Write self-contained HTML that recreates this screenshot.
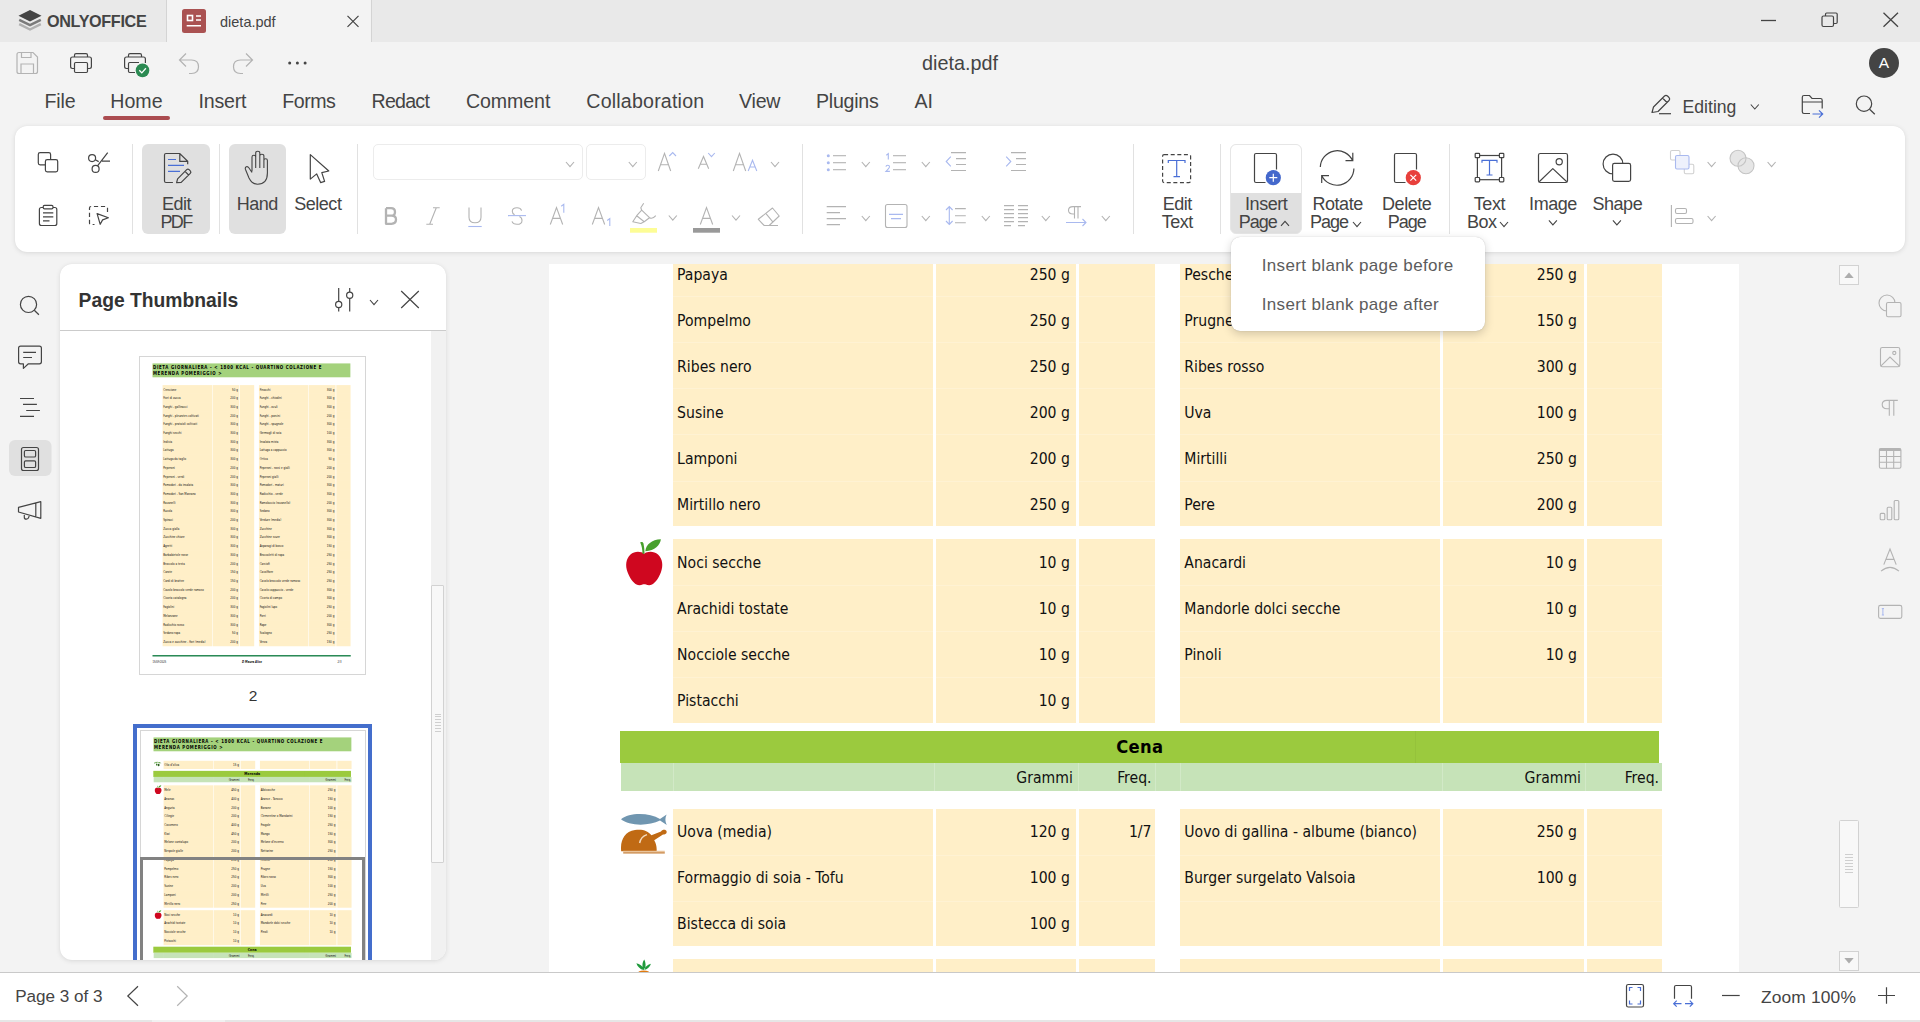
<!DOCTYPE html><html lang="en"><head><meta charset="utf-8"><title>dieta.pdf - ONLYOFFICE</title><style>
*{box-sizing:border-box;margin:0;padding:0}
html,body{width:1920px;height:1022px;overflow:hidden;background:#f3f3f3;font-family:"Liberation Sans",sans-serif;color:#444}
.abs{position:absolute}
.t{position:absolute;white-space:nowrap;line-height:1}
#titlebar{position:absolute;left:0;top:0;width:1920px;height:42px;background:#e9e9e9}
#tab{position:absolute;left:166px;top:0;width:206px;height:42px;background:#f3f3f3;border-left:1px solid #d4d4d4;border-right:1px solid #d4d4d4}
#toolbar{position:absolute;left:15px;top:126px;width:1890px;height:126px;background:#fff;border-radius:12px;box-shadow:0 1px 5px rgba(0,0,0,.11),0 0 1px rgba(0,0,0,.06)}
.sep{position:absolute;top:144px;width:1px;height:90px;background:#e1e1e1}
.btnbg{position:absolute;top:144px;height:90px;background:#e0e0e0;border-radius:6px}
.big{position:absolute;font-size:18px;line-height:18px;letter-spacing:-.45px;color:#444;text-align:center;white-space:nowrap}
.combo{position:absolute;top:144px;height:36px;border:1px solid #ececec;border-radius:5px;background:#fff}
#leftpanel{position:absolute;left:60px;top:264px;width:386px;height:696px;background:#fff;border-radius:12px;box-shadow:0 1px 5px rgba(0,0,0,.11),0 0 1px rgba(0,0,0,.06);overflow:hidden}
#status{position:absolute;left:0;top:972px;width:1920px;height:50px;background:#fff;border-top:1px solid #c9c9c9}
#status .strip{position:absolute;left:0;top:47px;width:1920px;height:3px;background:#e6e6e6}
#docwrap{position:absolute;left:549px;top:264px;width:1190px;height:708px;overflow:hidden;background:#fff}
.pg{position:absolute;width:1190px;height:1683px;background:#fff;font-family:"DejaVu Sans Condensed","Liberation Sans",sans-serif;color:#111;font-size:15.6px;overflow:hidden}
.pg .c{position:absolute;background:#ffefc8}
.pg .r{position:absolute;white-space:nowrap;line-height:46px;height:46px;padding-top:1px}
.pg .ln{position:absolute;height:1px;background:rgba(255,255,255,.2)}
#menu{position:absolute;left:1231px;top:237px;width:254px;height:94px;background:#fff;border-radius:9px;box-shadow:0 3px 10px rgba(0,0,0,.18),0 0 1px rgba(0,0,0,.25)}
#menu .t{font-size:17px;color:#5c5c5c;letter-spacing:.36px}
</style></head><body>
<div id="titlebar"></div><div id="tab"></div>
<div class="t" style="left:47px;top:13.2px;font-size:16.2px;color:#444;font-weight:bold;letter-spacing:-.35px">ONLYOFFICE</div>
<div class="t" style="left:220px;top:14.5px;font-size:14.5px;color:#444;">dieta.pdf</div>
<div class="t" style="left:0px;top:53.5px;font-size:19.8px;color:#444;width:1920px;text-align:center">dieta.pdf</div>
<div class="t" style="left:44.5px;top:91.8px;font-size:19.6px;color:#444;letter-spacing:-0.1px">File</div>
<div class="t" style="left:110.3px;top:91.8px;font-size:19.6px;color:#444;letter-spacing:0px">Home</div>
<div class="t" style="left:198.5px;top:91.8px;font-size:19.6px;color:#444;letter-spacing:-0.2px">Insert</div>
<div class="t" style="left:282.3px;top:91.8px;font-size:19.6px;color:#444;letter-spacing:-0.5px">Forms</div>
<div class="t" style="left:371.5px;top:91.8px;font-size:19.6px;color:#444;letter-spacing:-0.75px">Redact</div>
<div class="t" style="left:466px;top:91.8px;font-size:19.6px;color:#444;letter-spacing:-0.1px">Comment</div>
<div class="t" style="left:586.3px;top:91.8px;font-size:19.6px;color:#444;letter-spacing:0.2px">Collaboration</div>
<div class="t" style="left:739px;top:91.8px;font-size:19.6px;color:#444;letter-spacing:-0.2px">View</div>
<div class="t" style="left:816px;top:91.8px;font-size:19.6px;color:#444;letter-spacing:-0.25px">Plugins</div>
<div class="t" style="left:914.5px;top:91.8px;font-size:19.6px;color:#444;letter-spacing:0px">AI</div>
<div class="abs" style="left:103px;top:116.4px;width:67px;height:3.6px;border-radius:2px;background:#ab4c50"></div>
<div class="t" style="left:1682.6px;top:98.6px;font-size:17.6px;color:#444;">Editing</div>
<div id="toolbar"></div>
<div class="sep" style="left:132px"></div>
<div class="sep" style="left:219px"></div>
<div class="sep" style="left:357px"></div>
<div class="sep" style="left:802px"></div>
<div class="sep" style="left:1133px"></div>
<div class="sep" style="left:1220px"></div>
<div class="sep" style="left:1449px"></div>
<div class="btnbg" style="left:142px;width:68px"></div>
<div class="btnbg" style="left:229px;width:57px"></div>
<div class="abs" style="left:1230px;top:144px;width:72px;height:90px;border-radius:6px;background:#e0e0e0;border:1px solid #e6e6e6;overflow:hidden"><div style="position:absolute;left:0;top:0;width:100%;height:47.5px;background:#fff"></div></div>
<div class="combo" style="left:373px;width:210px"></div><div class="combo" style="left:586px;width:60px"></div>
<div class="big" style="left:116.5px;width:120px;top:194.5px">Edit<br><span style="letter-spacing:-1.6px;margin-left:-1px">PDF</span></div>
<div class="big" style="left:197.3px;width:120px;top:194.5px">Hand</div>
<div class="big" style="left:257.8px;width:120px;top:194.5px">Select</div>
<div class="big" style="left:1117.3px;width:120px;top:194.5px">Edit<br>Text</div>
<div class="big" style="left:1206.2px;width:120px;top:194.5px">Insert</div>
<div class="t" style="left:1238.7px;top:212.5px;font-size:18px;color:#444;letter-spacing:-1px">Page</div>
<div class="big" style="left:1277.6px;width:120px;top:194.5px">Rotate</div>
<div class="t" style="left:1310px;top:212.5px;font-size:18px;color:#444;letter-spacing:-1px">Page</div>
<div class="big" style="left:1346.7px;width:120px;top:194.5px">Delete<br><span style="letter-spacing:-1px">Page</span></div>
<div class="big" style="left:1429.4px;width:120px;top:194.5px">Text</div>
<div class="t" style="left:1467px;top:212.5px;font-size:18px;color:#444;letter-spacing:-.45px">Box</div>
<div class="big" style="left:1493px;width:120px;top:194.5px">Image</div>
<div class="big" style="left:1557.3px;width:120px;top:194.5px">Shape</div>
<div id="docwrap"><div class="pg" style="left:0.3px;top:-673px"><div class="abs" style="left:71px;top:39px;width:1041px;height:73px;background:#a4d27c"></div><div class="abs" style="left:74px;top:44px;font-weight:bold;font-size:23px;line-height:31px;letter-spacing:3.3px;white-space:nowrap;color:#000">DIETA GIORNALIERA - &lt; 1800 KCAL - QUARTINO COLAZIONE E<br>MERENDA POMERIGGIO &gt;</div><div class="c" style="left:123.7px;top:162.0px;width:260.0px;height:43.0px"></div><div class="c" style="left:386.7px;top:162.0px;width:140.4px;height:43.0px"></div><div class="c" style="left:530.1px;top:162.0px;width:75.6px;height:43.0px"></div><div class="c" style="left:631.0px;top:162.0px;width:259.5px;height:43.0px"></div><div class="c" style="left:894.2px;top:162.0px;width:140.1px;height:43.0px"></div><div class="c" style="left:1037.6px;top:162.0px;width:75.1px;height:43.0px"></div><div class="r" style="left:127.8px;top:162.0px">Olio d'oliva</div><div class="r" style="right:669.4px;top:162.0px">15 g</div><svg class="abs" style="left:72px;top:166px" width="42" height="30" viewBox="0 0 42 30"><path d="M2,6 C12,2 26,3 40,9" stroke="#3f7f2c" stroke-width="1.6" fill="none"/><path d="M10,5 C14,0 20,0 22,3 C18,6 14,7 10,5 Z M24,6 C28,2 34,3 36,7 C32,9 27,9 24,6 Z M12,6 C9,10 5,11 2,9 C5,6 9,5 12,6 Z" fill="#4c9e2c"/><ellipse cx="26" cy="18" rx="5" ry="7" fill="#2d5d20"/><ellipse cx="16" cy="16" rx="4" ry="6" fill="#3f7f2c"/></svg><div class="abs" style="left:70.3px;top:215.0px;width:1039.7px;height:31.6px;background:#9bca3e"></div><div class="abs" style="left:865.5px;top:215.0px;width:1px;height:31.6px;background:rgba(0,0,0,.035)"></div><div class="abs" style="left:0;width:1181px;top:215.0px;height:31.6px;line-height:32px;text-align:center;font-weight:bold;font-size:18.2px;letter-spacing:.3px;color:#000">Merenda</div><div class="abs" style="left:71.7px;top:246.6px;width:1041px;height:28.4px;background:#c6e3b8"></div><div class="abs" style="left:123.7px;top:246.6px;width:1px;height:28.4px;background:rgba(255,255,255,.22)"></div><div class="abs" style="left:385.2px;top:246.6px;width:1px;height:28.4px;background:rgba(255,255,255,.22)"></div><div class="abs" style="left:528.6px;top:246.6px;width:1px;height:28.4px;background:rgba(255,255,255,.22)"></div><div class="abs" style="left:606px;top:246.6px;width:1px;height:28.4px;background:rgba(255,255,255,.22)"></div><div class="abs" style="left:631px;top:246.6px;width:1px;height:28.4px;background:rgba(255,255,255,.22)"></div><div class="abs" style="left:892.3px;top:246.6px;width:1px;height:28.4px;background:rgba(255,255,255,.22)"></div><div class="abs" style="left:1036px;top:246.6px;width:1px;height:28.4px;background:rgba(255,255,255,.22)"></div><div class="r" style="right:666.5px;top:246.6px;height:28.4px;line-height:28.4px">Grammi</div><div class="r" style="right:587.8px;top:246.6px;height:28.4px;line-height:28.4px">Freq.</div><div class="r" style="right:158.3px;top:246.6px;height:28.4px;line-height:28.4px">Grammi</div><div class="r" style="right:80.3px;top:246.6px;height:28.4px;line-height:28.4px">Freq.</div><div class="c" style="left:123.7px;top:290.8px;width:260.0px;height:644.7px"></div><div class="c" style="left:386.7px;top:290.8px;width:140.4px;height:644.7px"></div><div class="c" style="left:530.1px;top:290.8px;width:75.6px;height:644.7px"></div><div class="c" style="left:631.0px;top:290.8px;width:259.5px;height:644.7px"></div><div class="c" style="left:894.2px;top:290.8px;width:140.1px;height:644.7px"></div><div class="c" style="left:1037.6px;top:290.8px;width:75.1px;height:644.7px"></div><div class="ln" style="left:123.7px;top:336.9px;width:989px"></div><div class="ln" style="left:123.7px;top:382.9px;width:989px"></div><div class="ln" style="left:123.7px;top:429.0px;width:989px"></div><div class="ln" style="left:123.7px;top:475.0px;width:989px"></div><div class="ln" style="left:123.7px;top:521.1px;width:989px"></div><div class="ln" style="left:123.7px;top:567.1px;width:989px"></div><div class="ln" style="left:123.7px;top:613.2px;width:989px"></div><div class="ln" style="left:123.7px;top:659.2px;width:989px"></div><div class="ln" style="left:123.7px;top:705.2px;width:989px"></div><div class="ln" style="left:123.7px;top:751.3px;width:989px"></div><div class="ln" style="left:123.7px;top:797.4px;width:989px"></div><div class="ln" style="left:123.7px;top:843.4px;width:989px"></div><div class="ln" style="left:123.7px;top:889.5px;width:989px"></div><div class="r" style="left:127.8px;top:291.7px">Mele</div><div class="r" style="right:669.4px;top:291.7px">450 g</div><div class="r" style="left:635px;top:291.7px">Albicocche</div><div class="r" style="right:162.4px;top:291.7px">250 g</div><div class="r" style="left:127.8px;top:337.8px">Ananas</div><div class="r" style="right:669.4px;top:337.8px">400 g</div><div class="r" style="left:635px;top:337.8px">Arance - Tarocco</div><div class="r" style="right:162.4px;top:337.8px">150 g</div><div class="r" style="left:127.8px;top:383.8px">Anguria</div><div class="r" style="right:669.4px;top:383.8px">200 g</div><div class="r" style="left:635px;top:383.8px">Banane</div><div class="r" style="right:162.4px;top:383.8px">100 g</div><div class="r" style="left:127.8px;top:429.9px">Ciliegie</div><div class="r" style="right:669.4px;top:429.9px">200 g</div><div class="r" style="left:635px;top:429.9px">Clementine o Mandarini</div><div class="r" style="right:162.4px;top:429.9px">150 g</div><div class="r" style="left:127.8px;top:475.9px">Cocomero</div><div class="r" style="right:669.4px;top:475.9px">400 g</div><div class="r" style="left:635px;top:475.9px">Fragole</div><div class="r" style="right:162.4px;top:475.9px">250 g</div><div class="r" style="left:127.8px;top:522.0px">Kiwi</div><div class="r" style="right:669.4px;top:522.0px">450 g</div><div class="r" style="left:635px;top:522.0px">Mango</div><div class="r" style="right:162.4px;top:522.0px">150 g</div><div class="r" style="left:127.8px;top:568.0px">Melone cantalupo</div><div class="r" style="right:669.4px;top:568.0px">200 g</div><div class="r" style="left:635px;top:568.0px">Melone d'inverno</div><div class="r" style="right:162.4px;top:568.0px">300 g</div><div class="r" style="left:127.8px;top:614.1px">Nespole gialle</div><div class="r" style="right:669.4px;top:614.1px">200 g</div><div class="r" style="left:635px;top:614.1px">Nettarine</div><div class="r" style="right:162.4px;top:614.1px">250 g</div><div class="r" style="left:127.8px;top:660.1px">Papaya</div><div class="r" style="right:669.4px;top:660.1px">250 g</div><div class="r" style="left:635px;top:660.1px">Pesche</div><div class="r" style="right:162.4px;top:660.1px">250 g</div><div class="r" style="left:127.8px;top:706.1px">Pompelmo</div><div class="r" style="right:669.4px;top:706.1px">250 g</div><div class="r" style="left:635px;top:706.1px">Prugne</div><div class="r" style="right:162.4px;top:706.1px">150 g</div><div class="r" style="left:127.8px;top:752.2px">Ribes nero</div><div class="r" style="right:669.4px;top:752.2px">250 g</div><div class="r" style="left:635px;top:752.2px">Ribes rosso</div><div class="r" style="right:162.4px;top:752.2px">300 g</div><div class="r" style="left:127.8px;top:798.2px">Susine</div><div class="r" style="right:669.4px;top:798.2px">200 g</div><div class="r" style="left:635px;top:798.2px">Uva</div><div class="r" style="right:162.4px;top:798.2px">100 g</div><div class="r" style="left:127.8px;top:844.3px">Lamponi</div><div class="r" style="right:669.4px;top:844.3px">200 g</div><div class="r" style="left:635px;top:844.3px">Mirtilli</div><div class="r" style="right:162.4px;top:844.3px">250 g</div><div class="r" style="left:127.8px;top:890.4px">Mirtillo nero</div><div class="r" style="right:669.4px;top:890.4px">250 g</div><div class="r" style="left:635px;top:890.4px">Pere</div><div class="r" style="right:162.4px;top:890.4px">200 g</div><svg class="abs" style="left:75.7px;top:290.00000000000006px" width="40" height="49" viewBox="0 0 40 49"><path d="M19.2,15.8 C16,13.2 9.5,13 5.5,16.5 C0.8,20.8 0.2,27.5 2.5,34 C4.5,39.8 8,44.5 11.5,46.5 C13.5,47.5 16,47.2 17.5,46.5 C18.7,46 19.8,46 21,46.5 C22.5,47.2 25,47.5 27,46.5 C30.5,44.5 34,39.8 36,34 C38.3,27.5 37.7,20.8 33,16.5 C29,13 22.4,13.2 19.2,15.8 Z" fill="#cf071f"/><path d="M15.2,4.4 C16.8,3.4 18.2,4 18.5,5.6 C19.1,8.6 19.5,12 19.6,15.8 L17.5,15.8 C17.4,11.6 16.8,7.6 15.2,4.4 Z" fill="#48a02c"/><path d="M20.3,13.2 C21,6.5 26.5,1.6 35.9,1.2 C35,7.2 30,12.8 20.3,13.2 Z" fill="#48a02c"/></svg><div class="c" style="left:123.7px;top:947.8px;width:260.0px;height:184.4px"></div><div class="c" style="left:386.7px;top:947.8px;width:140.4px;height:184.4px"></div><div class="c" style="left:530.1px;top:947.8px;width:75.6px;height:184.4px"></div><div class="c" style="left:631.0px;top:947.8px;width:259.5px;height:184.4px"></div><div class="c" style="left:894.2px;top:947.8px;width:140.1px;height:184.4px"></div><div class="c" style="left:1037.6px;top:947.8px;width:75.1px;height:184.4px"></div><div class="ln" style="left:123.7px;top:993.9px;width:989px"></div><div class="ln" style="left:123.7px;top:1040.0px;width:989px"></div><div class="ln" style="left:123.7px;top:1086.1px;width:989px"></div><div class="r" style="left:127.8px;top:948.0px">Noci secche</div><div class="r" style="right:669.4px;top:948.0px">10 g</div><div class="r" style="left:635px;top:948.0px">Anacardi</div><div class="r" style="right:162.4px;top:948.0px">10 g</div><div class="r" style="left:127.8px;top:994.1px">Arachidi tostate</div><div class="r" style="right:669.4px;top:994.1px">10 g</div><div class="r" style="left:635px;top:994.1px">Mandorle dolci secche</div><div class="r" style="right:162.4px;top:994.1px">10 g</div><div class="r" style="left:127.8px;top:1040.2px">Nocciole secche</div><div class="r" style="right:669.4px;top:1040.2px">10 g</div><div class="r" style="left:635px;top:1040.2px">Pinoli</div><div class="r" style="right:162.4px;top:1040.2px">10 g</div><div class="r" style="left:127.8px;top:1086.3px">Pistacchi</div><div class="r" style="right:669.4px;top:1086.3px">10 g</div><svg class="abs" style="left:75.7px;top:947px" width="40" height="49" viewBox="0 0 40 49"><path d="M19.2,15.8 C16,13.2 9.5,13 5.5,16.5 C0.8,20.8 0.2,27.5 2.5,34 C4.5,39.8 8,44.5 11.5,46.5 C13.5,47.5 16,47.2 17.5,46.5 C18.7,46 19.8,46 21,46.5 C22.5,47.2 25,47.5 27,46.5 C30.5,44.5 34,39.8 36,34 C38.3,27.5 37.7,20.8 33,16.5 C29,13 22.4,13.2 19.2,15.8 Z" fill="#cf071f"/><path d="M15.2,4.4 C16.8,3.4 18.2,4 18.5,5.6 C19.1,8.6 19.5,12 19.6,15.8 L17.5,15.8 C17.4,11.6 16.8,7.6 15.2,4.4 Z" fill="#48a02c"/><path d="M20.3,13.2 C21,6.5 26.5,1.6 35.9,1.2 C35,7.2 30,12.8 20.3,13.2 Z" fill="#48a02c"/></svg><div class="abs" style="left:70.3px;top:1140.0px;width:1039.7px;height:31.6px;background:#9bca3e"></div><div class="abs" style="left:865.5px;top:1140.0px;width:1px;height:31.6px;background:rgba(0,0,0,.035)"></div><div class="abs" style="left:0;width:1181px;top:1140.0px;height:31.6px;line-height:32px;text-align:center;font-weight:bold;font-size:18.2px;letter-spacing:.3px;color:#000">Cena</div><div class="abs" style="left:71.7px;top:1171.6px;width:1041px;height:28.4px;background:#c6e3b8"></div><div class="abs" style="left:123.7px;top:1171.6px;width:1px;height:28.4px;background:rgba(255,255,255,.22)"></div><div class="abs" style="left:385.2px;top:1171.6px;width:1px;height:28.4px;background:rgba(255,255,255,.22)"></div><div class="abs" style="left:528.6px;top:1171.6px;width:1px;height:28.4px;background:rgba(255,255,255,.22)"></div><div class="abs" style="left:606px;top:1171.6px;width:1px;height:28.4px;background:rgba(255,255,255,.22)"></div><div class="abs" style="left:631px;top:1171.6px;width:1px;height:28.4px;background:rgba(255,255,255,.22)"></div><div class="abs" style="left:892.3px;top:1171.6px;width:1px;height:28.4px;background:rgba(255,255,255,.22)"></div><div class="abs" style="left:1036px;top:1171.6px;width:1px;height:28.4px;background:rgba(255,255,255,.22)"></div><div class="r" style="right:666.5px;top:1171.6px;height:28.4px;line-height:28.4px">Grammi</div><div class="r" style="right:587.8px;top:1171.6px;height:28.4px;line-height:28.4px">Freq.</div><div class="r" style="right:158.3px;top:1171.6px;height:28.4px;line-height:28.4px">Grammi</div><div class="r" style="right:80.3px;top:1171.6px;height:28.4px;line-height:28.4px">Freq.</div><div class="c" style="left:123.7px;top:1217.6px;width:260.0px;height:137.9px"></div><div class="c" style="left:386.7px;top:1217.6px;width:140.4px;height:137.9px"></div><div class="c" style="left:530.1px;top:1217.6px;width:75.6px;height:137.9px"></div><div class="c" style="left:631.0px;top:1217.6px;width:259.5px;height:137.9px"></div><div class="c" style="left:894.2px;top:1217.6px;width:140.1px;height:137.9px"></div><div class="c" style="left:1037.6px;top:1217.6px;width:75.1px;height:137.9px"></div><div class="ln" style="left:123.7px;top:1263.5px;width:989px"></div><div class="ln" style="left:123.7px;top:1309.5px;width:989px"></div><div class="r" style="left:127.8px;top:1217.3px">Uova (media)</div><div class="r" style="right:669.4px;top:1217.3px">120 g</div><div class="r" style="right:587.8px;top:1217.3px">1/7</div><div class="r" style="left:635px;top:1217.3px">Uovo di gallina - albume (bianco)</div><div class="r" style="right:162.4px;top:1217.3px">250 g</div><div class="r" style="left:127.8px;top:1263.2px">Formaggio di soia - Tofu</div><div class="r" style="right:669.4px;top:1263.2px">100 g</div><div class="r" style="left:635px;top:1263.2px">Burger surgelato Valsoia</div><div class="r" style="right:162.4px;top:1263.2px">100 g</div><div class="r" style="left:127.8px;top:1309.2px">Bistecca di soia</div><div class="r" style="right:669.4px;top:1309.2px">100 g</div><svg class="abs" style="left:72px;top:1222.3px" width="48" height="42" viewBox="0 0 48 42"><path d="M0,6.3 C8,-0.6 28,-0.6 39,5.9 L45.6,1.4 C44,5 44,8 45.8,12 L39,7.6 C28,13.2 8,13.2 0,6.3 Z" fill="#7096b0"/><path d="M0.2,38.2 C-1,28 3,18.6 14,17 C22,16 27,18 30.4,22.2 L40,18.6 C41,16.4 45.2,16 45.7,18.7 C46,20.8 43.6,21.6 42,21.6 L33.2,27.2 C35,30.2 36,34.2 35.6,38.2 Z" fill="#c06a14"/><path d="M18.6,30 C19.5,25.5 22,22.8 26,21.6" stroke="#f3d9bb" stroke-width="1.5" fill="none"/><path d="M2.2,38.4 H43.8" stroke="#e9c49c" stroke-width="1.2"/><path d="M2.2,39.8 H43.8" stroke="#c47a30" stroke-width="1.3"/></svg><div class="c" style="left:123.7px;top:1367.8px;width:260.0px;height:184.2px"></div><div class="c" style="left:386.7px;top:1367.8px;width:140.4px;height:184.2px"></div><div class="c" style="left:530.1px;top:1367.8px;width:75.6px;height:184.2px"></div><div class="c" style="left:631.0px;top:1367.8px;width:259.5px;height:184.2px"></div><div class="c" style="left:894.2px;top:1367.8px;width:140.1px;height:184.2px"></div><div class="c" style="left:1037.6px;top:1367.8px;width:75.1px;height:184.2px"></div><div class="ln" style="left:123.7px;top:1413.8px;width:989px"></div><div class="ln" style="left:123.7px;top:1459.9px;width:989px"></div><div class="ln" style="left:123.7px;top:1505.9px;width:989px"></div><div class="r" style="left:127.8px;top:1367.8px">Verdure (media)</div><div class="r" style="right:669.4px;top:1367.8px">300 g</div><div class="r" style="left:635px;top:1367.8px">Insalata mista</div><div class="r" style="right:162.4px;top:1367.8px">300 g</div><div class="r" style="left:127.8px;top:1413.8px">Zucchine</div><div class="r" style="right:669.4px;top:1413.8px">300 g</div><div class="r" style="left:635px;top:1413.8px">Finocchi</div><div class="r" style="right:162.4px;top:1413.8px">300 g</div><div class="r" style="left:127.8px;top:1459.9px">Spinaci</div><div class="r" style="right:669.4px;top:1459.9px">200 g</div><div class="r" style="left:635px;top:1459.9px">Pomodori - maturi</div><div class="r" style="right:162.4px;top:1459.9px">300 g</div><div class="r" style="left:127.8px;top:1505.9px">Carote</div><div class="r" style="right:669.4px;top:1505.9px">150 g</div><div class="r" style="left:635px;top:1505.9px">Melanzane</div><div class="r" style="right:162.4px;top:1505.9px">300 g</div><svg class="abs" style="left:86.7px;top:1367.5px" width="16" height="30" viewBox="0 0 16 30"><path d="M7.4,10.6 C5.8,6 6.4,3 8.3,0.4 C9.7,3.5 10.1,6.6 8.9,10.6 Z M7.6,11 C4,10.2 1.5,7.6 0.4,4.2 C3.6,5 6.6,7 8.1,10.2 Z M8.4,11 C12,10.2 14.1,7.6 14.9,4.8 C12,5.6 9.5,7.6 8.1,10.2 Z" fill="#1f9a3c"/><path d="M2.6,12.4 Q7.7,10.6 12.8,12.4 L10.4,24 Q7.7,30 5,24 Z" fill="#e07b12"/></svg><div class="abs" style="left:71px;top:1573px;width:1043px;height:8px;background:#2a8a56"></div><div class="abs" style="left:71px;top:1600px;font-size:14px;white-space:nowrap">15/09/2025</div><div class="abs" style="left:0;width:1190px;text-align:center;top:1600px;font-size:15px;font-weight:bold;font-style:italic;white-space:nowrap">D Maura Alice</div><div class="abs" style="right:125px;top:1600px;font-size:14px;white-space:nowrap">3/3</div></div></div>
<div id="leftpanel"><div class="abs" style="left:0;top:66px;width:386px;height:1px;background:#cbcbcb"></div><div class="abs" style="left:371px;top:67px;width:15px;height:629px;background:#f1f1f1"></div><div class="abs" style="left:370.9px;top:320.5px;width:13.6px;height:278px;background:#f8f8f8;border:1px solid #d2d2d2;border-radius:1px"></div><div class="abs" style="left:374.9px;top:449.5px;width:6px;height:1px;background:#cfcfcf"></div><div class="abs" style="left:374.9px;top:452.4px;width:6px;height:1px;background:#cfcfcf"></div><div class="abs" style="left:374.9px;top:455.3px;width:6px;height:1px;background:#cfcfcf"></div><div class="abs" style="left:374.9px;top:458.2px;width:6px;height:1px;background:#cfcfcf"></div><div class="abs" style="left:374.9px;top:461.1px;width:6px;height:1px;background:#cfcfcf"></div><div class="abs" style="left:374.9px;top:464.0px;width:6px;height:1px;background:#cfcfcf"></div><div class="abs" style="left:374.9px;top:466.9px;width:6px;height:1px;background:#cfcfcf"></div><div class="t" style="left:18.6px;top:27.1px;font-size:19.3px;color:#333;font-weight:bold">Page Thumbnails</div><div class="abs" style="left:79.2px;top:91.6px;width:226.8px;height:319.6px;background:#fff;overflow:hidden"><div class="pg" style="left:0;top:0;transform:scale(0.19008);transform-origin:0 0"><div class="abs" style="left:71px;top:39px;width:1041px;height:73px;background:#a4d27c"></div><div class="abs" style="left:74px;top:44px;font-weight:bold;font-size:23px;line-height:31px;letter-spacing:3.3px;white-space:nowrap;color:#000">DIETA GIORNALIERA - &lt; 1800 KCAL - QUARTINO COLAZIONE E<br>MERENDA POMERIGGIO &gt;</div><div class="c" style="left:123.7px;top:152.6px;width:260.0px;height:1374.0px"></div><div class="c" style="left:386.7px;top:152.6px;width:140.4px;height:1374.0px"></div><div class="c" style="left:530.1px;top:152.6px;width:75.6px;height:1374.0px"></div><div class="c" style="left:631.0px;top:152.6px;width:259.5px;height:1374.0px"></div><div class="c" style="left:894.2px;top:152.6px;width:140.1px;height:1374.0px"></div><div class="c" style="left:1037.6px;top:152.6px;width:75.1px;height:1374.0px"></div><div class="ln" style="left:123.7px;top:198.4px;width:989px"></div><div class="ln" style="left:123.7px;top:244.2px;width:989px"></div><div class="ln" style="left:123.7px;top:290.0px;width:989px"></div><div class="ln" style="left:123.7px;top:335.8px;width:989px"></div><div class="ln" style="left:123.7px;top:381.6px;width:989px"></div><div class="ln" style="left:123.7px;top:427.4px;width:989px"></div><div class="ln" style="left:123.7px;top:473.2px;width:989px"></div><div class="ln" style="left:123.7px;top:519.0px;width:989px"></div><div class="ln" style="left:123.7px;top:564.8px;width:989px"></div><div class="ln" style="left:123.7px;top:610.6px;width:989px"></div><div class="ln" style="left:123.7px;top:656.4px;width:989px"></div><div class="ln" style="left:123.7px;top:702.2px;width:989px"></div><div class="ln" style="left:123.7px;top:748.0px;width:989px"></div><div class="ln" style="left:123.7px;top:793.8px;width:989px"></div><div class="ln" style="left:123.7px;top:839.6px;width:989px"></div><div class="ln" style="left:123.7px;top:885.4px;width:989px"></div><div class="ln" style="left:123.7px;top:931.2px;width:989px"></div><div class="ln" style="left:123.7px;top:977.0px;width:989px"></div><div class="ln" style="left:123.7px;top:1022.8px;width:989px"></div><div class="ln" style="left:123.7px;top:1068.6px;width:989px"></div><div class="ln" style="left:123.7px;top:1114.4px;width:989px"></div><div class="ln" style="left:123.7px;top:1160.2px;width:989px"></div><div class="ln" style="left:123.7px;top:1206.0px;width:989px"></div><div class="ln" style="left:123.7px;top:1251.8px;width:989px"></div><div class="ln" style="left:123.7px;top:1297.6px;width:989px"></div><div class="ln" style="left:123.7px;top:1343.4px;width:989px"></div><div class="ln" style="left:123.7px;top:1389.2px;width:989px"></div><div class="ln" style="left:123.7px;top:1435.0px;width:989px"></div><div class="ln" style="left:123.7px;top:1480.8px;width:989px"></div><div class="r" style="left:127.8px;top:152.6px">Crescione</div><div class="r" style="right:669.4px;top:152.6px">50 g</div><div class="r" style="left:635px;top:152.6px">Finocchi</div><div class="r" style="right:162.4px;top:152.6px">300 g</div><div class="r" style="left:127.8px;top:198.4px">Fiori di zucca</div><div class="r" style="right:669.4px;top:198.4px">200 g</div><div class="r" style="left:635px;top:198.4px">Funghi - chiodini</div><div class="r" style="right:162.4px;top:198.4px">300 g</div><div class="r" style="left:127.8px;top:244.2px">Funghi - gallinacci</div><div class="r" style="right:669.4px;top:244.2px">300 g</div><div class="r" style="left:635px;top:244.2px">Funghi - ovuli</div><div class="r" style="right:162.4px;top:244.2px">300 g</div><div class="r" style="left:127.8px;top:290.0px">Funghi - pleurotes coltivati</div><div class="r" style="right:669.4px;top:290.0px">200 g</div><div class="r" style="left:635px;top:290.0px">Funghi - porcini</div><div class="r" style="right:162.4px;top:290.0px">200 g</div><div class="r" style="left:127.8px;top:335.8px">Funghi - prataioli coltivati</div><div class="r" style="right:669.4px;top:335.8px">300 g</div><div class="r" style="left:635px;top:335.8px">Funghi - spugnole</div><div class="r" style="right:162.4px;top:335.8px">300 g</div><div class="r" style="left:127.8px;top:381.6px">Funghi secchi</div><div class="r" style="right:669.4px;top:381.6px">300 g</div><div class="r" style="left:635px;top:381.6px">Germogli di soia</div><div class="r" style="right:162.4px;top:381.6px">100 g</div><div class="r" style="left:127.8px;top:427.4px">Indivia</div><div class="r" style="right:669.4px;top:427.4px">300 g</div><div class="r" style="left:635px;top:427.4px">Insalata mista</div><div class="r" style="right:162.4px;top:427.4px">300 g</div><div class="r" style="left:127.8px;top:473.2px">Lattuga</div><div class="r" style="right:669.4px;top:473.2px">300 g</div><div class="r" style="left:635px;top:473.2px">Lattuga a cappuccio</div><div class="r" style="right:162.4px;top:473.2px">300 g</div><div class="r" style="left:127.8px;top:519.0px">Lattuga da taglio</div><div class="r" style="right:669.4px;top:519.0px">300 g</div><div class="r" style="left:635px;top:519.0px">Ortica</div><div class="r" style="right:162.4px;top:519.0px">50 g</div><div class="r" style="left:127.8px;top:564.8px">Peperoni</div><div class="r" style="right:669.4px;top:564.8px">200 g</div><div class="r" style="left:635px;top:564.8px">Peperoni - rossi e gialli</div><div class="r" style="right:162.4px;top:564.8px">200 g</div><div class="r" style="left:127.8px;top:610.6px">Peperoni - verdi</div><div class="r" style="right:669.4px;top:610.6px">200 g</div><div class="r" style="left:635px;top:610.6px">Peperoni gialli</div><div class="r" style="right:162.4px;top:610.6px">200 g</div><div class="r" style="left:127.8px;top:656.4px">Pomodori - da insalata</div><div class="r" style="right:669.4px;top:656.4px">300 g</div><div class="r" style="left:635px;top:656.4px">Pomodori - maturi</div><div class="r" style="right:162.4px;top:656.4px">300 g</div><div class="r" style="left:127.8px;top:702.2px">Pomodori - San Marzano</div><div class="r" style="right:669.4px;top:702.2px">300 g</div><div class="r" style="left:635px;top:702.2px">Radicchio - verde</div><div class="r" style="right:162.4px;top:702.2px">300 g</div><div class="r" style="left:127.8px;top:748.0px">Ravanelli</div><div class="r" style="right:669.4px;top:748.0px">300 g</div><div class="r" style="left:635px;top:748.0px">Ramolaccio (ravanello)</div><div class="r" style="right:162.4px;top:748.0px">200 g</div><div class="r" style="left:127.8px;top:793.8px">Rucola</div><div class="r" style="right:669.4px;top:793.8px">300 g</div><div class="r" style="left:635px;top:793.8px">Sedano</div><div class="r" style="right:162.4px;top:793.8px">300 g</div><div class="r" style="left:127.8px;top:839.6px">Spinaci</div><div class="r" style="right:669.4px;top:839.6px">200 g</div><div class="r" style="left:635px;top:839.6px">Verdure (media)</div><div class="r" style="right:162.4px;top:839.6px">300 g</div><div class="r" style="left:127.8px;top:885.4px">Zucca gialla</div><div class="r" style="right:669.4px;top:885.4px">300 g</div><div class="r" style="left:635px;top:885.4px">Zucchine</div><div class="r" style="right:162.4px;top:885.4px">300 g</div><div class="r" style="left:127.8px;top:931.2px">Zucchine chiare</div><div class="r" style="right:669.4px;top:931.2px">300 g</div><div class="r" style="left:635px;top:931.2px">Zucchine scure</div><div class="r" style="right:162.4px;top:931.2px">300 g</div><div class="r" style="left:127.8px;top:977.0px">Agretti</div><div class="r" style="right:669.4px;top:977.0px">300 g</div><div class="r" style="left:635px;top:977.0px">Asparagi di bosco</div><div class="r" style="right:162.4px;top:977.0px">150 g</div><div class="r" style="left:127.8px;top:1022.8px">Barbabietole rosse</div><div class="r" style="right:669.4px;top:1022.8px">300 g</div><div class="r" style="left:635px;top:1022.8px">Broccoletti di rapa</div><div class="r" style="right:162.4px;top:1022.8px">250 g</div><div class="r" style="left:127.8px;top:1068.6px">Broccolo a testa</div><div class="r" style="right:669.4px;top:1068.6px">200 g</div><div class="r" style="left:635px;top:1068.6px">Carciofi</div><div class="r" style="right:162.4px;top:1068.6px">250 g</div><div class="r" style="left:127.8px;top:1114.4px">Carote</div><div class="r" style="right:669.4px;top:1114.4px">150 g</div><div class="r" style="left:635px;top:1114.4px">Cavolfiore</div><div class="r" style="right:162.4px;top:1114.4px">250 g</div><div class="r" style="left:127.8px;top:1160.2px">Cardi di brattee</div><div class="r" style="right:669.4px;top:1160.2px">150 g</div><div class="r" style="left:635px;top:1160.2px">Cavolo broccolo verde ramoso</div><div class="r" style="right:162.4px;top:1160.2px">250 g</div><div class="r" style="left:127.8px;top:1206.0px">Cavolo broccolo verde ramoso</div><div class="r" style="right:669.4px;top:1206.0px">200 g</div><div class="r" style="left:635px;top:1206.0px">Cavolo cappuccio - verde</div><div class="r" style="right:162.4px;top:1206.0px">300 g</div><div class="r" style="left:127.8px;top:1251.8px">Cicoria catalogna</div><div class="r" style="right:669.4px;top:1251.8px">200 g</div><div class="r" style="left:635px;top:1251.8px">Cicoria di campo</div><div class="r" style="right:162.4px;top:1251.8px">300 g</div><div class="r" style="left:127.8px;top:1297.6px">Fagiolini</div><div class="r" style="right:669.4px;top:1297.6px">300 g</div><div class="r" style="left:635px;top:1297.6px">Fagiolini lupo</div><div class="r" style="right:162.4px;top:1297.6px">250 g</div><div class="r" style="left:127.8px;top:1343.4px">Melanzane</div><div class="r" style="right:669.4px;top:1343.4px">300 g</div><div class="r" style="left:635px;top:1343.4px">Porri</div><div class="r" style="right:162.4px;top:1343.4px">200 g</div><div class="r" style="left:127.8px;top:1389.2px">Radicchio rosso</div><div class="r" style="right:669.4px;top:1389.2px">300 g</div><div class="r" style="left:635px;top:1389.2px">Rape</div><div class="r" style="right:162.4px;top:1389.2px">300 g</div><div class="r" style="left:127.8px;top:1435.0px">Sedano rapa</div><div class="r" style="right:669.4px;top:1435.0px">50 g</div><div class="r" style="left:635px;top:1435.0px">Scalogno</div><div class="r" style="right:162.4px;top:1435.0px">250 g</div><div class="r" style="left:127.8px;top:1480.8px">Zucca e zucchine - fiori (media)</div><div class="r" style="right:669.4px;top:1480.8px">200 g</div><div class="r" style="left:635px;top:1480.8px">Verza</div><div class="r" style="right:162.4px;top:1480.8px">150 g</div><div class="abs" style="left:71px;top:1573px;width:1043px;height:8px;background:#2a8a56"></div><div class="abs" style="left:71px;top:1600px;font-size:14px;white-space:nowrap">15/09/2025</div><div class="abs" style="left:0;width:1190px;text-align:center;top:1600px;font-size:15px;font-weight:bold;font-style:italic;white-space:nowrap">D Maura Alice</div><div class="abs" style="right:125px;top:1600px;font-size:14px;white-space:nowrap">2/3</div></div><div class="abs" style="left:0;top:0;width:100%;height:100%;border:1px solid #d6d6d6"></div></div><div class="t" style="left:0px;top:423.5px;font-size:15.5px;color:#333;width:386px;text-align:center;padding-right:0">2</div><div class="abs" style="left:73px;top:459.6px;width:239.2px;height:340px;border:4px solid #446ecc;background:#fff"></div><div class="abs" style="left:79.7px;top:465.7px;width:226.3px;height:320px;background:#fff;overflow:hidden"><div class="pg" style="left:0;top:0;transform:scale(0.19008);transform-origin:0 0"><div class="abs" style="left:71px;top:39px;width:1041px;height:73px;background:#a4d27c"></div><div class="abs" style="left:74px;top:44px;font-weight:bold;font-size:23px;line-height:31px;letter-spacing:3.3px;white-space:nowrap;color:#000">DIETA GIORNALIERA - &lt; 1800 KCAL - QUARTINO COLAZIONE E<br>MERENDA POMERIGGIO &gt;</div><div class="c" style="left:123.7px;top:162.0px;width:260.0px;height:43.0px"></div><div class="c" style="left:386.7px;top:162.0px;width:140.4px;height:43.0px"></div><div class="c" style="left:530.1px;top:162.0px;width:75.6px;height:43.0px"></div><div class="c" style="left:631.0px;top:162.0px;width:259.5px;height:43.0px"></div><div class="c" style="left:894.2px;top:162.0px;width:140.1px;height:43.0px"></div><div class="c" style="left:1037.6px;top:162.0px;width:75.1px;height:43.0px"></div><div class="r" style="left:127.8px;top:162.0px">Olio d'oliva</div><div class="r" style="right:669.4px;top:162.0px">15 g</div><svg class="abs" style="left:72px;top:166px" width="42" height="30" viewBox="0 0 42 30"><path d="M2,6 C12,2 26,3 40,9" stroke="#3f7f2c" stroke-width="1.6" fill="none"/><path d="M10,5 C14,0 20,0 22,3 C18,6 14,7 10,5 Z M24,6 C28,2 34,3 36,7 C32,9 27,9 24,6 Z M12,6 C9,10 5,11 2,9 C5,6 9,5 12,6 Z" fill="#4c9e2c"/><ellipse cx="26" cy="18" rx="5" ry="7" fill="#2d5d20"/><ellipse cx="16" cy="16" rx="4" ry="6" fill="#3f7f2c"/></svg><div class="abs" style="left:70.3px;top:215.0px;width:1039.7px;height:31.6px;background:#9bca3e"></div><div class="abs" style="left:865.5px;top:215.0px;width:1px;height:31.6px;background:rgba(0,0,0,.035)"></div><div class="abs" style="left:0;width:1181px;top:215.0px;height:31.6px;line-height:32px;text-align:center;font-weight:bold;font-size:18.2px;letter-spacing:.3px;color:#000">Merenda</div><div class="abs" style="left:71.7px;top:246.6px;width:1041px;height:28.4px;background:#c6e3b8"></div><div class="abs" style="left:123.7px;top:246.6px;width:1px;height:28.4px;background:rgba(255,255,255,.22)"></div><div class="abs" style="left:385.2px;top:246.6px;width:1px;height:28.4px;background:rgba(255,255,255,.22)"></div><div class="abs" style="left:528.6px;top:246.6px;width:1px;height:28.4px;background:rgba(255,255,255,.22)"></div><div class="abs" style="left:606px;top:246.6px;width:1px;height:28.4px;background:rgba(255,255,255,.22)"></div><div class="abs" style="left:631px;top:246.6px;width:1px;height:28.4px;background:rgba(255,255,255,.22)"></div><div class="abs" style="left:892.3px;top:246.6px;width:1px;height:28.4px;background:rgba(255,255,255,.22)"></div><div class="abs" style="left:1036px;top:246.6px;width:1px;height:28.4px;background:rgba(255,255,255,.22)"></div><div class="r" style="right:666.5px;top:246.6px;height:28.4px;line-height:28.4px">Grammi</div><div class="r" style="right:587.8px;top:246.6px;height:28.4px;line-height:28.4px">Freq.</div><div class="r" style="right:158.3px;top:246.6px;height:28.4px;line-height:28.4px">Grammi</div><div class="r" style="right:80.3px;top:246.6px;height:28.4px;line-height:28.4px">Freq.</div><div class="c" style="left:123.7px;top:290.8px;width:260.0px;height:644.7px"></div><div class="c" style="left:386.7px;top:290.8px;width:140.4px;height:644.7px"></div><div class="c" style="left:530.1px;top:290.8px;width:75.6px;height:644.7px"></div><div class="c" style="left:631.0px;top:290.8px;width:259.5px;height:644.7px"></div><div class="c" style="left:894.2px;top:290.8px;width:140.1px;height:644.7px"></div><div class="c" style="left:1037.6px;top:290.8px;width:75.1px;height:644.7px"></div><div class="ln" style="left:123.7px;top:336.9px;width:989px"></div><div class="ln" style="left:123.7px;top:382.9px;width:989px"></div><div class="ln" style="left:123.7px;top:429.0px;width:989px"></div><div class="ln" style="left:123.7px;top:475.0px;width:989px"></div><div class="ln" style="left:123.7px;top:521.1px;width:989px"></div><div class="ln" style="left:123.7px;top:567.1px;width:989px"></div><div class="ln" style="left:123.7px;top:613.2px;width:989px"></div><div class="ln" style="left:123.7px;top:659.2px;width:989px"></div><div class="ln" style="left:123.7px;top:705.2px;width:989px"></div><div class="ln" style="left:123.7px;top:751.3px;width:989px"></div><div class="ln" style="left:123.7px;top:797.4px;width:989px"></div><div class="ln" style="left:123.7px;top:843.4px;width:989px"></div><div class="ln" style="left:123.7px;top:889.5px;width:989px"></div><div class="r" style="left:127.8px;top:291.7px">Mele</div><div class="r" style="right:669.4px;top:291.7px">450 g</div><div class="r" style="left:635px;top:291.7px">Albicocche</div><div class="r" style="right:162.4px;top:291.7px">250 g</div><div class="r" style="left:127.8px;top:337.8px">Ananas</div><div class="r" style="right:669.4px;top:337.8px">400 g</div><div class="r" style="left:635px;top:337.8px">Arance - Tarocco</div><div class="r" style="right:162.4px;top:337.8px">150 g</div><div class="r" style="left:127.8px;top:383.8px">Anguria</div><div class="r" style="right:669.4px;top:383.8px">200 g</div><div class="r" style="left:635px;top:383.8px">Banane</div><div class="r" style="right:162.4px;top:383.8px">100 g</div><div class="r" style="left:127.8px;top:429.9px">Ciliegie</div><div class="r" style="right:669.4px;top:429.9px">200 g</div><div class="r" style="left:635px;top:429.9px">Clementine o Mandarini</div><div class="r" style="right:162.4px;top:429.9px">150 g</div><div class="r" style="left:127.8px;top:475.9px">Cocomero</div><div class="r" style="right:669.4px;top:475.9px">400 g</div><div class="r" style="left:635px;top:475.9px">Fragole</div><div class="r" style="right:162.4px;top:475.9px">250 g</div><div class="r" style="left:127.8px;top:522.0px">Kiwi</div><div class="r" style="right:669.4px;top:522.0px">450 g</div><div class="r" style="left:635px;top:522.0px">Mango</div><div class="r" style="right:162.4px;top:522.0px">150 g</div><div class="r" style="left:127.8px;top:568.0px">Melone cantalupo</div><div class="r" style="right:669.4px;top:568.0px">200 g</div><div class="r" style="left:635px;top:568.0px">Melone d'inverno</div><div class="r" style="right:162.4px;top:568.0px">300 g</div><div class="r" style="left:127.8px;top:614.1px">Nespole gialle</div><div class="r" style="right:669.4px;top:614.1px">200 g</div><div class="r" style="left:635px;top:614.1px">Nettarine</div><div class="r" style="right:162.4px;top:614.1px">250 g</div><div class="r" style="left:127.8px;top:660.1px">Papaya</div><div class="r" style="right:669.4px;top:660.1px">250 g</div><div class="r" style="left:635px;top:660.1px">Pesche</div><div class="r" style="right:162.4px;top:660.1px">250 g</div><div class="r" style="left:127.8px;top:706.1px">Pompelmo</div><div class="r" style="right:669.4px;top:706.1px">250 g</div><div class="r" style="left:635px;top:706.1px">Prugne</div><div class="r" style="right:162.4px;top:706.1px">150 g</div><div class="r" style="left:127.8px;top:752.2px">Ribes nero</div><div class="r" style="right:669.4px;top:752.2px">250 g</div><div class="r" style="left:635px;top:752.2px">Ribes rosso</div><div class="r" style="right:162.4px;top:752.2px">300 g</div><div class="r" style="left:127.8px;top:798.2px">Susine</div><div class="r" style="right:669.4px;top:798.2px">200 g</div><div class="r" style="left:635px;top:798.2px">Uva</div><div class="r" style="right:162.4px;top:798.2px">100 g</div><div class="r" style="left:127.8px;top:844.3px">Lamponi</div><div class="r" style="right:669.4px;top:844.3px">200 g</div><div class="r" style="left:635px;top:844.3px">Mirtilli</div><div class="r" style="right:162.4px;top:844.3px">250 g</div><div class="r" style="left:127.8px;top:890.4px">Mirtillo nero</div><div class="r" style="right:669.4px;top:890.4px">250 g</div><div class="r" style="left:635px;top:890.4px">Pere</div><div class="r" style="right:162.4px;top:890.4px">200 g</div><svg class="abs" style="left:75.7px;top:290.00000000000006px" width="40" height="49" viewBox="0 0 40 49"><path d="M19.2,15.8 C16,13.2 9.5,13 5.5,16.5 C0.8,20.8 0.2,27.5 2.5,34 C4.5,39.8 8,44.5 11.5,46.5 C13.5,47.5 16,47.2 17.5,46.5 C18.7,46 19.8,46 21,46.5 C22.5,47.2 25,47.5 27,46.5 C30.5,44.5 34,39.8 36,34 C38.3,27.5 37.7,20.8 33,16.5 C29,13 22.4,13.2 19.2,15.8 Z" fill="#cf071f"/><path d="M15.2,4.4 C16.8,3.4 18.2,4 18.5,5.6 C19.1,8.6 19.5,12 19.6,15.8 L17.5,15.8 C17.4,11.6 16.8,7.6 15.2,4.4 Z" fill="#48a02c"/><path d="M20.3,13.2 C21,6.5 26.5,1.6 35.9,1.2 C35,7.2 30,12.8 20.3,13.2 Z" fill="#48a02c"/></svg><div class="c" style="left:123.7px;top:947.8px;width:260.0px;height:184.4px"></div><div class="c" style="left:386.7px;top:947.8px;width:140.4px;height:184.4px"></div><div class="c" style="left:530.1px;top:947.8px;width:75.6px;height:184.4px"></div><div class="c" style="left:631.0px;top:947.8px;width:259.5px;height:184.4px"></div><div class="c" style="left:894.2px;top:947.8px;width:140.1px;height:184.4px"></div><div class="c" style="left:1037.6px;top:947.8px;width:75.1px;height:184.4px"></div><div class="ln" style="left:123.7px;top:993.9px;width:989px"></div><div class="ln" style="left:123.7px;top:1040.0px;width:989px"></div><div class="ln" style="left:123.7px;top:1086.1px;width:989px"></div><div class="r" style="left:127.8px;top:948.0px">Noci secche</div><div class="r" style="right:669.4px;top:948.0px">10 g</div><div class="r" style="left:635px;top:948.0px">Anacardi</div><div class="r" style="right:162.4px;top:948.0px">10 g</div><div class="r" style="left:127.8px;top:994.1px">Arachidi tostate</div><div class="r" style="right:669.4px;top:994.1px">10 g</div><div class="r" style="left:635px;top:994.1px">Mandorle dolci secche</div><div class="r" style="right:162.4px;top:994.1px">10 g</div><div class="r" style="left:127.8px;top:1040.2px">Nocciole secche</div><div class="r" style="right:669.4px;top:1040.2px">10 g</div><div class="r" style="left:635px;top:1040.2px">Pinoli</div><div class="r" style="right:162.4px;top:1040.2px">10 g</div><div class="r" style="left:127.8px;top:1086.3px">Pistacchi</div><div class="r" style="right:669.4px;top:1086.3px">10 g</div><svg class="abs" style="left:75.7px;top:947px" width="40" height="49" viewBox="0 0 40 49"><path d="M19.2,15.8 C16,13.2 9.5,13 5.5,16.5 C0.8,20.8 0.2,27.5 2.5,34 C4.5,39.8 8,44.5 11.5,46.5 C13.5,47.5 16,47.2 17.5,46.5 C18.7,46 19.8,46 21,46.5 C22.5,47.2 25,47.5 27,46.5 C30.5,44.5 34,39.8 36,34 C38.3,27.5 37.7,20.8 33,16.5 C29,13 22.4,13.2 19.2,15.8 Z" fill="#cf071f"/><path d="M15.2,4.4 C16.8,3.4 18.2,4 18.5,5.6 C19.1,8.6 19.5,12 19.6,15.8 L17.5,15.8 C17.4,11.6 16.8,7.6 15.2,4.4 Z" fill="#48a02c"/><path d="M20.3,13.2 C21,6.5 26.5,1.6 35.9,1.2 C35,7.2 30,12.8 20.3,13.2 Z" fill="#48a02c"/></svg><div class="abs" style="left:70.3px;top:1140.0px;width:1039.7px;height:31.6px;background:#9bca3e"></div><div class="abs" style="left:865.5px;top:1140.0px;width:1px;height:31.6px;background:rgba(0,0,0,.035)"></div><div class="abs" style="left:0;width:1181px;top:1140.0px;height:31.6px;line-height:32px;text-align:center;font-weight:bold;font-size:18.2px;letter-spacing:.3px;color:#000">Cena</div><div class="abs" style="left:71.7px;top:1171.6px;width:1041px;height:28.4px;background:#c6e3b8"></div><div class="abs" style="left:123.7px;top:1171.6px;width:1px;height:28.4px;background:rgba(255,255,255,.22)"></div><div class="abs" style="left:385.2px;top:1171.6px;width:1px;height:28.4px;background:rgba(255,255,255,.22)"></div><div class="abs" style="left:528.6px;top:1171.6px;width:1px;height:28.4px;background:rgba(255,255,255,.22)"></div><div class="abs" style="left:606px;top:1171.6px;width:1px;height:28.4px;background:rgba(255,255,255,.22)"></div><div class="abs" style="left:631px;top:1171.6px;width:1px;height:28.4px;background:rgba(255,255,255,.22)"></div><div class="abs" style="left:892.3px;top:1171.6px;width:1px;height:28.4px;background:rgba(255,255,255,.22)"></div><div class="abs" style="left:1036px;top:1171.6px;width:1px;height:28.4px;background:rgba(255,255,255,.22)"></div><div class="r" style="right:666.5px;top:1171.6px;height:28.4px;line-height:28.4px">Grammi</div><div class="r" style="right:587.8px;top:1171.6px;height:28.4px;line-height:28.4px">Freq.</div><div class="r" style="right:158.3px;top:1171.6px;height:28.4px;line-height:28.4px">Grammi</div><div class="r" style="right:80.3px;top:1171.6px;height:28.4px;line-height:28.4px">Freq.</div><div class="c" style="left:123.7px;top:1217.6px;width:260.0px;height:137.9px"></div><div class="c" style="left:386.7px;top:1217.6px;width:140.4px;height:137.9px"></div><div class="c" style="left:530.1px;top:1217.6px;width:75.6px;height:137.9px"></div><div class="c" style="left:631.0px;top:1217.6px;width:259.5px;height:137.9px"></div><div class="c" style="left:894.2px;top:1217.6px;width:140.1px;height:137.9px"></div><div class="c" style="left:1037.6px;top:1217.6px;width:75.1px;height:137.9px"></div><div class="ln" style="left:123.7px;top:1263.5px;width:989px"></div><div class="ln" style="left:123.7px;top:1309.5px;width:989px"></div><div class="r" style="left:127.8px;top:1217.3px">Uova (media)</div><div class="r" style="right:669.4px;top:1217.3px">120 g</div><div class="r" style="right:587.8px;top:1217.3px">1/7</div><div class="r" style="left:635px;top:1217.3px">Uovo di gallina - albume (bianco)</div><div class="r" style="right:162.4px;top:1217.3px">250 g</div><div class="r" style="left:127.8px;top:1263.2px">Formaggio di soia - Tofu</div><div class="r" style="right:669.4px;top:1263.2px">100 g</div><div class="r" style="left:635px;top:1263.2px">Burger surgelato Valsoia</div><div class="r" style="right:162.4px;top:1263.2px">100 g</div><div class="r" style="left:127.8px;top:1309.2px">Bistecca di soia</div><div class="r" style="right:669.4px;top:1309.2px">100 g</div><svg class="abs" style="left:72px;top:1222.3px" width="48" height="42" viewBox="0 0 48 42"><path d="M0,6.3 C8,-0.6 28,-0.6 39,5.9 L45.6,1.4 C44,5 44,8 45.8,12 L39,7.6 C28,13.2 8,13.2 0,6.3 Z" fill="#7096b0"/><path d="M0.2,38.2 C-1,28 3,18.6 14,17 C22,16 27,18 30.4,22.2 L40,18.6 C41,16.4 45.2,16 45.7,18.7 C46,20.8 43.6,21.6 42,21.6 L33.2,27.2 C35,30.2 36,34.2 35.6,38.2 Z" fill="#c06a14"/><path d="M18.6,30 C19.5,25.5 22,22.8 26,21.6" stroke="#f3d9bb" stroke-width="1.5" fill="none"/><path d="M2.2,38.4 H43.8" stroke="#e9c49c" stroke-width="1.2"/><path d="M2.2,39.8 H43.8" stroke="#c47a30" stroke-width="1.3"/></svg><div class="c" style="left:123.7px;top:1367.8px;width:260.0px;height:184.2px"></div><div class="c" style="left:386.7px;top:1367.8px;width:140.4px;height:184.2px"></div><div class="c" style="left:530.1px;top:1367.8px;width:75.6px;height:184.2px"></div><div class="c" style="left:631.0px;top:1367.8px;width:259.5px;height:184.2px"></div><div class="c" style="left:894.2px;top:1367.8px;width:140.1px;height:184.2px"></div><div class="c" style="left:1037.6px;top:1367.8px;width:75.1px;height:184.2px"></div><div class="ln" style="left:123.7px;top:1413.8px;width:989px"></div><div class="ln" style="left:123.7px;top:1459.9px;width:989px"></div><div class="ln" style="left:123.7px;top:1505.9px;width:989px"></div><div class="r" style="left:127.8px;top:1367.8px">Verdure (media)</div><div class="r" style="right:669.4px;top:1367.8px">300 g</div><div class="r" style="left:635px;top:1367.8px">Insalata mista</div><div class="r" style="right:162.4px;top:1367.8px">300 g</div><div class="r" style="left:127.8px;top:1413.8px">Zucchine</div><div class="r" style="right:669.4px;top:1413.8px">300 g</div><div class="r" style="left:635px;top:1413.8px">Finocchi</div><div class="r" style="right:162.4px;top:1413.8px">300 g</div><div class="r" style="left:127.8px;top:1459.9px">Spinaci</div><div class="r" style="right:669.4px;top:1459.9px">200 g</div><div class="r" style="left:635px;top:1459.9px">Pomodori - maturi</div><div class="r" style="right:162.4px;top:1459.9px">300 g</div><div class="r" style="left:127.8px;top:1505.9px">Carote</div><div class="r" style="right:669.4px;top:1505.9px">150 g</div><div class="r" style="left:635px;top:1505.9px">Melanzane</div><div class="r" style="right:162.4px;top:1505.9px">300 g</div><svg class="abs" style="left:86.7px;top:1367.5px" width="16" height="30" viewBox="0 0 16 30"><path d="M7.4,10.6 C5.8,6 6.4,3 8.3,0.4 C9.7,3.5 10.1,6.6 8.9,10.6 Z M7.6,11 C4,10.2 1.5,7.6 0.4,4.2 C3.6,5 6.6,7 8.1,10.2 Z M8.4,11 C12,10.2 14.1,7.6 14.9,4.8 C12,5.6 9.5,7.6 8.1,10.2 Z" fill="#1f9a3c"/><path d="M2.6,12.4 Q7.7,10.6 12.8,12.4 L10.4,24 Q7.7,30 5,24 Z" fill="#e07b12"/></svg><div class="abs" style="left:71px;top:1573px;width:1043px;height:8px;background:#2a8a56"></div><div class="abs" style="left:71px;top:1600px;font-size:14px;white-space:nowrap">15/09/2025</div><div class="abs" style="left:0;width:1190px;text-align:center;top:1600px;font-size:15px;font-weight:bold;font-style:italic;white-space:nowrap">D Maura Alice</div><div class="abs" style="right:125px;top:1600px;font-size:14px;white-space:nowrap">3/3</div></div><div class="abs" style="left:0;top:0;width:100%;height:100%;border:1px solid #d6d6d6;border-bottom:0"></div></div><div class="abs" style="left:79.9px;top:593.1px;width:225.4px;height:140px;border:3px solid #828282"></div></div>
<div id="status"><div class="strip"></div><div class="abs" style="left:152px;top:47px;width:73px;height:3px;background:#f1f1f1"></div></div>
<div class="t" style="left:15.2px;top:988.4px;font-size:17.1px;color:#444;">Page 3 of 3</div>
<div class="t" style="left:1760.9px;top:988.7px;font-size:17.4px;color:#444;letter-spacing:.15px">Zoom 100%</div>
<svg class="abs" style="left:0;top:0" width="1920" height="1022" viewBox="0 0 1920 1022"><path d="M30,10 L41.5,15.7 L30,21.4 L18.5,15.7 Z" fill="#444"/><path d="M19.2,19.9 L30,25.2 L40.8,19.9" stroke="#7a7a7a" stroke-width="2.4" fill="none"/><path d="M19.2,24.2 L30,29.5 L40.8,24.2" stroke="#b0b0b0" stroke-width="2.4" fill="none"/><rect x="182" y="9" width="24" height="24" rx="2.5" fill="#aa5252"/><rect x="187.5" y="15.5" width="5" height="5" fill="none" stroke="#fff" stroke-width="1.6"/><path d="M196,16 H201 M196,20 H201 M186.7,25.7 H201" stroke="#fff" stroke-width="1.6"/><path d="M347.5,15.8 L358.5,26.8 M358.5,15.8 L347.5,26.8" stroke="#444" stroke-width="1.2"/><path d="M1761,20.5 H1776" stroke="#444" stroke-width="1.3"/><rect x="1822" y="16" width="11.5" height="10.5" rx="1.5" fill="none" stroke="#444" stroke-width="1.2"/><path d="M1825.5,16 V14.2 Q1825.5,13 1826.7,13 H1836 Q1837.2,13 1837.2,14.2 V22.3 Q1837.2,23.5 1836,23.5 H1833.5" fill="none" stroke="#444" stroke-width="1.2"/><path d="M1883.5,12.8 L1898,26.8 M1898,12.8 L1883.5,26.8" stroke="#444" stroke-width="1.3"/><path d="M17,54.5 Q17,52.5 19,52.5 H33 L37.5,57 V71.5 Q37.5,73.5 35.5,73.5 H19 Q17,73.5 17,71.5 Z" fill="none" stroke="#b3b3b3" stroke-width="1.2"/><path d="M21.5,52.5 V57.5 H31 V52.5 M21,73.5 V64 H33.5 V73.5" fill="none" stroke="#b3b3b3" stroke-width="1.2"/><path d="M74.5,57 V55.2 Q74.5,53.7 76,53.7 H86 Q87.5,53.7 87.5,55.2 V57" fill="none" stroke="#444444" stroke-width="1.2"/><path d="M74.5,68.5 H72.5 Q70.6,68.5 70.6,66.6 V59 Q70.6,57 72.5,57 H89.5 Q91.4,57 91.4,59 V66.6 Q91.4,68.5 89.5,68.5 H87.5" fill="none" stroke="#444444" stroke-width="1.2"/><rect x="74.5" y="62.5" width="13" height="10" rx="1.2" fill="none" stroke="#444444" stroke-width="1.2"/><path d="M128.5,57 V55.2 Q128.5,53.7 130,53.7 H140 Q141.5,53.7 141.5,55.2 V57" fill="none" stroke="#444444" stroke-width="1.2"/><path d="M128.5,68.5 H126.5 Q124.6,68.5 124.6,66.6 V59 Q124.6,57 126.5,57 H143.5 Q145.4,57 145.4,59 V63" fill="none" stroke="#444444" stroke-width="1.2"/><path d="M135,72.5 H129.7 Q128.5,72.5 128.5,71.3 V63.7 Q128.5,62.5 129.7,62.5 H139" fill="none" stroke="#444444" stroke-width="1.2"/><circle cx="142.5" cy="70.4" r="6.8" fill="#2b8a52"/><path d="M139.3,70.3 L141.8,72.9 L145.9,68.3" fill="none" stroke="#fff" stroke-width="1.3"/><path d="M186,53.5 L179.5,60 L186,66.5 M180,60 H191.5 Q198.5,60 198.5,66.8 Q198.5,73.5 191.5,73.5 H189" fill="none" stroke="#b3b3b3" stroke-width="1.2"/><path d="M246,53.5 L252.5,60 L246,66.5 M252,60 H240.5 Q233.5,60 233.5,66.8 Q233.5,73.5 240.5,73.5 H243" fill="none" stroke="#b3b3b3" stroke-width="1.2"/><circle cx="289.7" cy="63" r="1.5" fill="#444"/><circle cx="297.4" cy="63" r="1.5" fill="#444"/><circle cx="305.1" cy="63" r="1.5" fill="#444"/><circle cx="1884" cy="63" r="15" fill="#444"/><path d="M1652,112.5 L1653.5,107 L1664.5,96 Q1666,94.6 1667.5,96 L1669,97.5 Q1670.4,99 1669,100.5 L1658,111.5 Z M1662.5,98 L1667,102.5" fill="none" stroke="#444444" stroke-width="1.2" stroke-linejoin="round"/><path d="M1659,113.7 H1671" stroke="#444444" stroke-width="1.2"/><path d="M1750.8,104.5 L1754.8,109.0 L1758.8,104.5" stroke="#444444" stroke-width="1.1" fill="none"/><path d="M1810,113.5 H1804 Q1802.3,113.5 1802.3,111.8 V97.2 Q1802.3,95.5 1804,95.5 H1809.5 L1812,98.5 H1820.5 Q1822.2,98.5 1822.2,100.2 V108.5 M1802.3,102 H1822.2" fill="none" stroke="#444444" stroke-width="1.2"/><path d="M1812.5,114 H1822.5 M1819,110.3 L1822.7,114 L1819,117.7" fill="none" stroke="#4a6fd6" stroke-width="1.2"/><circle cx="1864" cy="103.7" r="7.7" fill="none" stroke="#444444" stroke-width="1.2"/><path d="M1869.6,109.3 L1874.8,114.3" stroke="#444444" stroke-width="1.2"/><rect x="38.3" y="152.6" width="12.3" height="12.3" rx="1.8" stroke="#444444" stroke-width="1.2" fill="none" /><rect x="45.4" y="159.6" width="12.3" height="12.3" rx="1.8" stroke="#444444" stroke-width="1.2" fill="#fff" /><circle cx="92.1" cy="158.1" r="3.5" stroke="#444444" stroke-width="1.2" fill="none"/><circle cx="95.6" cy="168.9" r="3.5" stroke="#444444" stroke-width="1.2" fill="none"/><path d="M107.7,152.6 L97.5,165.9 M95.3,159.8 L98.7,161.6 M102,161.2 H110" stroke="#444444" stroke-width="1.2" fill="none" /><rect x="39.4" y="207.5" width="17.4" height="18" rx="2" stroke="#444444" stroke-width="1.2" fill="none" /><rect x="43.2" y="205.4" width="9.8" height="3.4" rx="1.3" stroke="#444444" stroke-width="1.2" fill="#fff" /><path d="M43,212.8 H53.3 M43,216.8 H53.3 M43,220.8 H49.5" stroke="#444444" stroke-width="1.2" fill="none" /><path d="M107.5,212 V208 Q107.5,206.5 106,206.5 H91 Q89.5,206.5 89.5,208 V223 Q89.5,224.5 91,224.5 H94.5" stroke="#444444" stroke-width="1.2" fill="none" stroke-dasharray="4.2 2.8"/><path d="M97.1,213.6 L108.4,217.7 L102.6,219.9 L100.2,224.3 Z" stroke="#444444" stroke-width="1.2" fill="none" stroke-linejoin="round"/><path d="M172.9,182.5 H166 Q164.5,182.5 164.5,181 V155 Q164.5,153.5 166,153.5 H179.8 L187.7,161.3 V164.3 M179.8,153.5 V161.3 H187.7" stroke="#444444" stroke-width="1.2" fill="none" /><path d="M168,159.5 H176 M168,165.4 H184 M168,171.4 H180" stroke="#4a6fd6" stroke-width="1.2" fill="none" /><path d="M176.6,182.6 L177.6,178.8 L186.7,169.7 Q187.9,168.5 189.1,169.7 L190.3,170.9 Q191.5,172.1 190.3,173.3 L181.2,182.4 Z M185,171.4 L188.6,175" stroke="#444444" stroke-width="1.2" fill="none" stroke-linejoin="round"/><path d="M252,171.5 V157 Q252,155.3 253.85,155.3 Q255.7,155.3 255.7,157 V168 M255.7,157 V153 Q255.7,151.2 257.75,151.2 Q259.8,151.2 259.8,153 V168 M259.8,156 Q259.8,154.2 261.85,154.2 Q263.9,154.2 263.9,156 V168 M263.9,160.5 Q263.9,158.7 265.65,158.7 Q267.4,158.7 267.4,160.5 V173 Q267.4,184.2 257.5,184.2 Q252,184.2 249,178 L245.5,169.5 Q244.8,167.5 246.3,166.8 Q247.8,166.2 249,168 L252,172.5" stroke="#444444" stroke-width="1.1" fill="none" stroke-linejoin="round"/><path d="M310.3,154.6 V179.1 L316.7,173.9 L320.6,182.6 L324.6,181.4 L321.8,172.6 L328.8,171 Z" stroke="#444444" stroke-width="1.2" fill="none" stroke-linejoin="round"/><path d="M566,162 L570.0,166.6 L574,162" stroke="#b3b3b3" stroke-width="1.1" fill="none"/><path d="M628.8,162 L632.8,166.6 L636.8,162" stroke="#b3b3b3" stroke-width="1.1" fill="none"/><path d="M658.3,171 L664.5,153.3 L670.7,171 M660.5,164.8 H668.5" stroke="#b3b3b3" stroke-width="1.1" fill="none" /><path d="M669.3,156 L672.7,152.5 L676,156" stroke="#a9b9ef" stroke-width="1.1" fill="none" /><path d="M698.3,168.8 L703.5,156.5 L708.7,168.8 M700.2,164.3 H706.8" stroke="#b3b3b3" stroke-width="1.1" fill="none" /><path d="M708.2,153 L711.5,156.7 L714.8,153" stroke="#a9b9ef" stroke-width="1.1" fill="none" /><path d="M733.3,171 L739.5,153.3 L745.7,171 M735.5,164.8 H743.5" stroke="#b3b3b3" stroke-width="1.1" fill="none" /><path d="M748.2,171 L752.5,160.3 L756.8,171 M749.8,167 H755.2" stroke="#a9b9ef" stroke-width="1.1" fill="none" /><path d="M771,162 L775.0,166.6 L779,162" stroke="#b3b3b3" stroke-width="1.1" fill="none"/><path d="M386,208.2 V223.8 H391.5 Q396,223.8 396,219.6 Q396,215.7 391.5,215.7 H386 M391.2,215.7 Q395,215.7 395,211.9 Q395,208.2 391,208.2 H386" stroke="#b3b3b3" stroke-width="2.3" fill="none" stroke-linejoin="round"/><path d="M433,207.8 H439.7 M426.3,224.3 H433 M436.3,207.8 L429.7,224.3" stroke="#b3b3b3" stroke-width="1.1" fill="none" /><path d="M469,207.5 V217.3 Q469,222.8 475,222.8 Q481,222.8 481,217.3 V207.5" stroke="#b3b3b3" stroke-width="1.1" fill="none" /><path d="M468.3,226.5 H481.7" stroke="#a9b9ef" stroke-width="1.1" fill="none" /><path d="M521.6,210.6 Q520.6,207.8 517,207.8 Q512.3,207.8 512.3,211.3 Q512.3,213.6 514.6,214.7 M519.4,216.6 Q522,217.7 522,220.4 Q522,224.3 517,224.3 Q513,224.3 512,221.4" stroke="#b3b3b3" stroke-width="1.1" fill="none" /><path d="M508,215.6 H526" stroke="#a9b9ef" stroke-width="1.1" fill="none" /><path d="M550.3,224.5 L556.5,207.5 L562.7,224.5 M552.5,218.4 H560.5" stroke="#b3b3b3" stroke-width="1.1" fill="none" /><path d="M561.2,206.3 L563.8,204.3 V212.7" stroke="#a9b9ef" stroke-width="1.1" fill="none" /><path d="M592.3,224.5 L598.5,207.5 L604.7,224.5 M594.5,218.4 H602.5" stroke="#b3b3b3" stroke-width="1.1" fill="none" /><path d="M607.2,220.5 L609.8,218.5 V226" stroke="#a9b9ef" stroke-width="1.1" fill="none" /><path d="M641.7,210.2 L649.5,217.7 L644.2,221.8 L636.7,215.7 Z M636.7,215.7 L632.8,221.8 L640.8,223.5 L644.2,221.8 M643.7,203.2 L640.8,207.7 L641.7,210.2 M649.5,217.7 Q652.5,219.5 655.8,215.7" stroke="#b3b3b3" stroke-width="1.1" fill="none" stroke-linejoin="round"/><rect x="630" y="228" width="27" height="4.7" fill="#fdfd96"/><path d="M668.8,215.5 L672.8,220.1 L676.8,215.5" stroke="#b3b3b3" stroke-width="1.1" fill="none"/><path d="M700.3,224.5 L706.5,207.5 L712.7,224.5 M702.5,218.4 H710.5" stroke="#b3b3b3" stroke-width="1.1" fill="none" /><rect x="693" y="228" width="27" height="4.7" fill="#999"/><path d="M732,215.5 L736.0,220.1 L740,215.5" stroke="#b3b3b3" stroke-width="1.1" fill="none"/><path d="M772.5,208 L779.2,216 L769.2,225.5 H764.2 L758.3,219.3 Z M769.2,225.5 H778 M766.2,213.8 L772.8,221.8" stroke="#b3b3b3" stroke-width="1.1" fill="none" stroke-linejoin="round"/><circle cx="828.3" cy="155.7" r="1.5" fill="#a9b9ef"/><path d="M833,155.7 H846" stroke="#b3b3b3" stroke-width="1.1" fill="none" /><path d="M893,155.7 H906" stroke="#b3b3b3" stroke-width="1.1" fill="none" /><circle cx="828.3" cy="162.7" r="1.5" fill="#a9b9ef"/><path d="M833,162.7 H846" stroke="#b3b3b3" stroke-width="1.1" fill="none" /><path d="M893,162.7 H906" stroke="#b3b3b3" stroke-width="1.1" fill="none" /><circle cx="828.3" cy="169.7" r="1.5" fill="#a9b9ef"/><path d="M833,169.7 H846" stroke="#b3b3b3" stroke-width="1.1" fill="none" /><path d="M893,169.7 H906" stroke="#b3b3b3" stroke-width="1.1" fill="none" /><path d="M861.8,162 L865.8,166.6 L869.8,162" stroke="#b3b3b3" stroke-width="1.1" fill="none"/><path d="M886.3,155.2 L888.3,153.7 V159.4" stroke="#a9b9ef" stroke-width="1.1" fill="none" /><path d="M886,166.7 Q886,165.2 887.7,165.2 Q889.5,165.2 889.5,166.8 Q889.5,168 886,171.4 H889.9" stroke="#a9b9ef" stroke-width="1.1" fill="none" /><path d="M921.8,162 L925.8,166.6 L929.8,162" stroke="#b3b3b3" stroke-width="1.1" fill="none"/><path d="M951,152.6 H966 M956,158.6 H966 M956,164.5 H966 M951,170.5 H966" stroke="#b3b3b3" stroke-width="1.1" fill="none" /><path d="M950.8,156.6 L946.2,161.5 L950.8,166.4" stroke="#a9b9ef" stroke-width="1.1" fill="none" /><path d="M1011,152.6 H1026 M1016,158.6 H1026 M1016,164.5 H1026 M1011,170.5 H1026" stroke="#b3b3b3" stroke-width="1.1" fill="none" /><path d="M1006.2,156.6 L1010.8,161.5 L1006.2,166.4" stroke="#a9b9ef" stroke-width="1.1" fill="none" /><path d="M826.7,206.6 H846 M826.7,212.6 H840 M826.7,218.6 H846 M826.7,224.6 H840" stroke="#b3b3b3" stroke-width="1.1" fill="none" /><path d="M861.8,216 L865.8,220.6 L869.8,216" stroke="#b3b3b3" stroke-width="1.1" fill="none"/><rect x="885.5" y="204.5" width="21.5" height="23" rx="2" stroke="#b3b3b3" stroke-width="1.1" fill="none" /><path d="M889,214.4 H903 M891,218.6 H901" stroke="#a9b9ef" stroke-width="1.1" fill="none" /><path d="M921.8,216 L925.8,220.6 L929.8,216" stroke="#b3b3b3" stroke-width="1.1" fill="none"/><path d="M949.3,206.5 V224.5 M946,210 L949.3,206.5 L952.6,210 M946,221 L949.3,224.5 L952.6,221" stroke="#a9b9ef" stroke-width="1.1" fill="none" /><path d="M955,208.6 H965.8 M955,215.7 H965.8 M955,222.7 H965.8" stroke="#b3b3b3" stroke-width="1.1" fill="none" /><path d="M981.8,216 L985.8,220.6 L989.8,216" stroke="#b3b3b3" stroke-width="1.1" fill="none"/><path d="M1004,205.6 H1014 M1018,205.6 H1028 M1004,209.6 H1014 M1018,209.6 H1028 M1004,213.6 H1014 M1018,213.6 H1028 M1004,217.6 H1014 M1018,217.6 H1028 M1004,221.6 H1014 M1018,221.6 H1028 M1004,225.6 H1011 M1018,225.6 H1025 " stroke="#b3b3b3" stroke-width="1.1" fill="none" /><path d="M1041.8,216 L1045.8,220.6 L1049.8,216" stroke="#b3b3b3" stroke-width="1.1" fill="none"/><path d="M1081,206.6 H1073 Q1068.5,206.6 1068.5,210.3 Q1068.5,214 1073,214 H1074.5 M1074.5,206.6 V218.5 M1078,206.6 V218.5" stroke="#b3b3b3" stroke-width="1.1" fill="none" /><path d="M1066,222.5 H1086 M1082.5,219 L1086,222.5 L1082.5,226" stroke="#a9b9ef" stroke-width="1.1" fill="none" /><path d="M1101.8,216 L1105.8,220.6 L1109.8,216" stroke="#b3b3b3" stroke-width="1.1" fill="none"/><rect x="1162.6" y="154.6" width="28" height="28" rx="1.5" stroke="#444444" stroke-width="1.2" fill="none" stroke-dasharray="4 2.6"/><path d="M1168.3,163 V160.5 H1185 V163 M1176.7,160.5 V176.6 M1173.5,176.6 H1180" stroke="#4a6fd6" stroke-width="1.2" fill="none" /><path d="M1265.5,182.5 H1256 Q1254.5,182.5 1254.5,181 V155 Q1254.5,153.5 1256,153.5 H1275 Q1276.5,153.5 1276.5,155 V169.5" stroke="#444444" stroke-width="1.2" fill="none" /><circle cx="1273.3" cy="177.7" r="7.6" fill="#4468cc"/><path d="M1269.3,177.7 H1277.3 M1273.3,173.7 V181.7" stroke="#fff" stroke-width="1.2" fill="none" /><path d="M1320.3,167 A16.9,16.9 0 0 1 1352.6,160.7 M1345.5,160.7 H1352.8 V152.7" stroke="#444444" stroke-width="1.2" fill="none" /><path d="M1353.9,168.5 A16.9,16.9 0 0 1 1321.8,175.7 M1329,175.7 H1321.7 V183" stroke="#444444" stroke-width="1.2" fill="none" /><path d="M1405.5,182.5 H1396 Q1394.5,182.5 1394.5,181 V155 Q1394.5,153.5 1396,153.5 H1415 Q1416.5,153.5 1416.5,155 V169.5" stroke="#444444" stroke-width="1.2" fill="none" /><circle cx="1413.3" cy="177.7" r="7.6" fill="#e8403c"/><path d="M1410.4,174.8 L1416.2,180.6 M1416.2,174.8 L1410.4,180.6" stroke="#fff" stroke-width="1.2" fill="none" /><rect x="1477.4" y="155.5" width="24.2" height="24.2" rx="0" stroke="#444444" stroke-width="1.2" fill="none" /><rect x="1475.2" y="153.3" width="4.4" height="4.4" rx="0.8" stroke="#444444" stroke-width="1.2" fill="#fff" /><rect x="1499.4" y="153.3" width="4.4" height="4.4" rx="0.8" stroke="#444444" stroke-width="1.2" fill="#fff" /><rect x="1475.2" y="177.5" width="4.4" height="4.4" rx="0.8" stroke="#444444" stroke-width="1.2" fill="#fff" /><rect x="1499.4" y="177.5" width="4.4" height="4.4" rx="0.8" stroke="#444444" stroke-width="1.2" fill="#fff" /><path d="M1482,162.8 V160.3 H1497 V162.8 M1489.5,160.3 V175 M1486.5,175 H1492.5" stroke="#4a6fd6" stroke-width="1.2" fill="none" /><path d="M1500,222 L1504.0,226.6 L1508,222" stroke="#444444" stroke-width="1.1" fill="none"/><rect x="1538.5" y="153.5" width="29" height="29" rx="1.8" stroke="#444444" stroke-width="1.2" fill="none" /><circle cx="1559.2" cy="161.8" r="3.1" stroke="#444444" stroke-width="1.2" fill="none"/><path d="M1539.2,181.8 L1552.8,168.6 L1566.8,181.8" stroke="#444444" stroke-width="1.2" fill="none" stroke-linejoin="round"/><path d="M1548.9,220.3 L1552.9,224.9 L1556.9,220.3" stroke="#444444" stroke-width="1.1" fill="none"/><circle cx="1613" cy="164" r="9.9" stroke="#444444" stroke-width="1.2" fill="none"/><rect x="1612.6" y="163.4" width="18" height="18" rx="1.8" stroke="#444444" stroke-width="1.2" fill="#fff" /><path d="M1612.9,220.3 L1616.9,224.9 L1620.9,220.3" stroke="#444444" stroke-width="1.1" fill="none"/><path d="M1281,225.9 L1285.0,221.3 L1289,225.9" stroke="#444444" stroke-width="1.1" fill="none"/><path d="M1353,222 L1357.0,226.6 L1361,222" stroke="#444444" stroke-width="1.1" fill="none"/><rect x="1670.5" y="150.5" width="9.5" height="9.5" rx="1.5" stroke="#d0d0d0" stroke-width="1.1" fill="#fff" /><rect x="1684.3" y="164.3" width="9.5" height="9.5" rx="1.5" stroke="#d0d0d0" stroke-width="1.1" fill="#fff" /><rect x="1675.5" y="155.5" width="13.5" height="13.5" rx="1.5" stroke="#a9b9ef" stroke-width="1.1" fill="#eef1fc" /><path d="M1707.6,162 L1711.6,166.6 L1715.6,162" stroke="#b3b3b3" stroke-width="1.1" fill="none"/><circle cx="1738" cy="158.2" r="8" fill="#e6e6e6"/><circle cx="1746" cy="165.8" r="8" fill="#e6e6e6"/><circle cx="1738" cy="158.2" r="8" stroke="#c4c4c4" stroke-width="1.1" fill="none"/><circle cx="1746" cy="165.8" r="8" stroke="#c4c4c4" stroke-width="1.1" fill="none"/><path d="M1767.6,162 L1771.6,166.6 L1775.6,162" stroke="#b3b3b3" stroke-width="1.1" fill="none"/><path d="M1671.4,205 V227" stroke="#b3b3b3" stroke-width="1.1" fill="none" /><rect x="1675.5" y="208.5" width="11" height="5" rx="1.5" stroke="#b3b3b3" stroke-width="1.1" fill="none" /><rect x="1675.5" y="218.5" width="17.5" height="5" rx="1.5" stroke="#b3b3b3" stroke-width="1.1" fill="none" /><path d="M1707.6,216 L1711.6,220.6 L1715.6,216" stroke="#b3b3b3" stroke-width="1.1" fill="none"/><circle cx="28.5" cy="304.4" r="8.1" stroke="#444444" stroke-width="1.2" fill="none"/><path d="M34.3,310.2 L38.9,314.7" stroke="#444444" stroke-width="1.2" fill="none" /><path d="M20.6,346.2 H39.4 Q41.4,346.2 41.4,348.2 V361.8 Q41.4,363.8 39.4,363.8 H28.4 L23.4,368.4 V363.8 H20.6 Q18.6,363.8 18.6,361.8 V348.2 Q18.6,346.2 20.6,346.2 Z" stroke="#444444" stroke-width="1.2" fill="none" stroke-linejoin="round"/><path d="M23.2,352.4 H36 M23.2,357.5 H32" stroke="#444444" stroke-width="1.2" fill="none" /><path d="M20,398.5 H34 M23,404.4 H36.9 M26.2,410.5 H39.9 M20,416.4 H34" stroke="#444444" stroke-width="1.2" fill="none" /><rect x="9" y="440" width="42.5" height="36" rx="6" fill="#e0e0e0"/><rect x="21.5" y="447.5" width="17" height="23" rx="2" stroke="#444444" stroke-width="1.2" fill="none" /><rect x="24.4" y="450.5" width="11.2" height="6.5" rx="1.3" stroke="#444444" stroke-width="1.2" fill="none" /><rect x="24.4" y="460.8" width="11.2" height="6.7" rx="1.3" stroke="#444444" stroke-width="1.2" fill="none" /><path d="M18.5,507.3 L40.8,501.7 V518.3 L18.5,512 Z M35.8,503.2 V516.8 M24.3,513.8 V517.2 Q24.3,519.2 26.4,519.2 Q28.3,519.2 28.8,517.2 L29.3,515.3" stroke="#444444" stroke-width="1.2" fill="none" stroke-linejoin="round"/><path d="M338.7,288 V301.4 M338.7,307.6 V311.6 M349.7,288 V292.1 M349.7,298.3 V311.6" stroke="#444444" stroke-width="1.2" fill="none" /><circle cx="338.7" cy="304.5" r="3.1" stroke="#444444" stroke-width="1.2" fill="none"/><circle cx="349.7" cy="295.2" r="3.1" stroke="#444444" stroke-width="1.2" fill="none"/><path d="M370,300 L374.0,304.6 L378,300" stroke="#444444" stroke-width="1.1" fill="none"/><path d="M401.2,291 L418.8,308 M418.8,291 L401.2,308" stroke="#444444" stroke-width="1.2" fill="none" /><circle cx="1887" cy="303" r="8" stroke="#b3b3b3" stroke-width="1.1" fill="none"/><rect x="1886.5" y="302.5" width="14.5" height="14.3" rx="1.5" stroke="#b3b3b3" stroke-width="1.1" fill="#f3f3f3" /><rect x="1880.5" y="347.5" width="19.3" height="19.3" rx="1.8" stroke="#b3b3b3" stroke-width="1.1" fill="none" /><circle cx="1894.3" cy="353" r="1.6" stroke="#b3b3b3" stroke-width="1.1" fill="none"/><path d="M1881,365.8 L1890,357 L1899.2,365.8" stroke="#b3b3b3" stroke-width="1.1" fill="none" /><path d="M1897.8,400.4 H1887 Q1882.2,400.4 1882.2,404.6 Q1882.2,408.8 1887,408.8 H1889 M1889.3,400.4 V415.8 M1893.8,400.4 V415.8" stroke="#b3b3b3" stroke-width="1.1" fill="none" /><rect x="1879.4" y="448.6" width="21.5" height="19.6" rx="1.5" stroke="#b3b3b3" stroke-width="1.1" fill="none" /><path d="M1879.4,449.8 H1900.9" stroke="#b3b3b3" stroke-width="2.4" fill="none" /><path d="M1879.4,456.5 H1900.9 M1879.4,462.3 H1900.9 M1886.5,451 V468.2 M1893.7,451 V468.2" stroke="#b3b3b3" stroke-width="1.1" fill="none" /><rect x="1880.2" y="513.4" width="4.6" height="6.3" rx="1" stroke="#b3b3b3" stroke-width="1.1" fill="none" /><rect x="1887.2" y="507.2" width="4.6" height="12.5" rx="1" stroke="#b3b3b3" stroke-width="1.1" fill="none" /><rect x="1894.2" y="500.5" width="4.6" height="19.2" rx="1" stroke="#b3b3b3" stroke-width="1.1" fill="none" /><path d="M1883.8,564.6 L1890,549 L1896.2,564.6 M1885.8,559.4 H1894.2" stroke="#b3b3b3" stroke-width="1.1" fill="none" /><path d="M1881,571.2 Q1890,563.6 1899,571.2" stroke="#b3b3b3" stroke-width="1.1" fill="none" /><rect x="1878.6" y="605.4" width="23.2" height="13" rx="1.8" stroke="#b3b3b3" stroke-width="1.1" fill="none" /><path d="M1881.8,608.6 H1884 M1881.8,615 H1884 M1882.9,608.6 V615" stroke="#a9b9ef" stroke-width="1" fill="none" /><rect x="1839.5" y="265.5" width="19" height="19" rx="0" stroke="#d2d2d2" stroke-width="1" fill="#f8f8f8" /><path d="M1844.3,278 L1849,272.6 L1853.7,278 Z" fill="#adadad"/><rect x="1839.5" y="951.5" width="19" height="19" rx="0" stroke="#d2d2d2" stroke-width="1" fill="#f8f8f8" /><path d="M1844.3,958 L1849,963.4 L1853.7,958 Z" fill="#adadad"/><rect x="1839.5" y="820.5" width="19" height="87" rx="1" stroke="#d2d2d2" stroke-width="1" fill="#f8f8f8" /><path d="M1845,854.5 H1853 M1845,857.5 H1853 M1845,860.5 H1853 M1845,863.5 H1853 M1845,866.5 H1853 M1845,869.5 H1853 M1845,872.5 H1853 " stroke="#cfcfcf" stroke-width="1" fill="none" /><path d="M138,986.3 L127.8,996 L138,1005.7" stroke="#444444" stroke-width="1.2" fill="none" /><path d="M177.2,986.3 L187.2,996 L177.2,1005.7" stroke="#b3b3b3" stroke-width="1.2" fill="none" /><rect x="1626.5" y="984.5" width="17" height="22.5" rx="1.8" stroke="#444444" stroke-width="1.2" fill="none" /><path d="M1629.5,991 V987.5 H1632.5 M1637.5,987.5 H1640.5 V991 M1629.5,1000.5 V1004 H1632.5 M1637.5,1004 H1640.5 V1000.5" stroke="#4a6fd6" stroke-width="1.2" fill="none" /><path d="M1674.5,998.7 V987 Q1674.5,985.5 1676,985.5 H1690 Q1691.5,985.5 1691.5,987 V998.7" stroke="#444444" stroke-width="1.2" fill="none" /><path d="M1673.7,1003.7 H1681.5 M1676.7,1000.7 L1673.7,1003.7 L1676.7,1006.7 M1685,1003.7 H1692.8 M1689.8,1000.7 L1692.8,1003.7 L1689.8,1006.7" stroke="#4a6fd6" stroke-width="1.2" fill="none" /><path d="M1722,995.5 H1739.7" stroke="#444444" stroke-width="1.2" fill="none" /><path d="M1878,995.5 H1895 M1886.5,987.3 V1003.7" stroke="#444444" stroke-width="1.2" fill="none" /></svg>
<div class="t" style="left:1869px;top:55.3px;font-size:15.5px;color:#fff;width:30px;text-align:center">A</div>
<div id="menu"><div class="t" style="left:30.7px;top:20.3px;font-size:17px;color:#5c5c5c;">Insert blank page before</div><div class="t" style="left:30.7px;top:59.4px;font-size:17px;color:#5c5c5c;">Insert blank page after</div></div>
</body></html>
